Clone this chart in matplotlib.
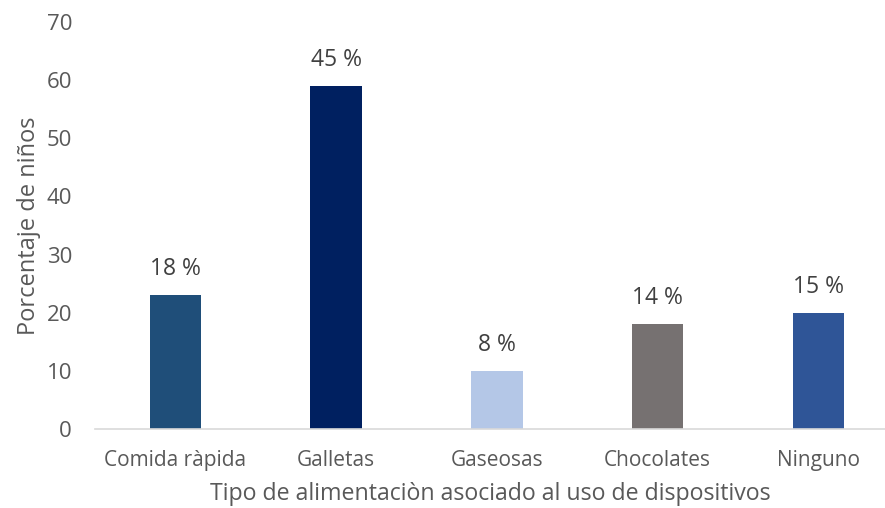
import matplotlib
matplotlib.use("Agg")
import matplotlib.pyplot as plt

plt.rcParams['font.family'] = ['Open Sans', 'DejaVu Sans']

# número de niños por tipo de alimento
categorias = ['Comida ràpida', 'Galletas', 'Gaseosas', 'Chocolates', 'Ninguno']
ninos = [23, 59, 10, 18, 20]
colores = ['#1F4E79', '#002060', '#B4C7E7', '#767171', '#2F5597']

total = sum(ninos)
porcentajes = [round(n / total * 100) for n in ninos]

fig = plt.figure(figsize=(8.85, 5.08), dpi=100)
ax = fig.add_axes([95 / 885, 79 / 508, 790 / 885, 407 / 508])

x = range(len(categorias))
bars = ax.bar(x, ninos, width=0.32, color=colores)

for b, p in zip(bars, porcentajes):
    ax.text(b.get_x() + b.get_width() / 2, b.get_height() + 2.4, f'{p} %',
            ha='center', va='bottom', fontsize=16.5, color='#404040')

ax.set_xlim(-0.5, -0.5 + 790 / 160.75)
ax.set_ylim(0, 70)
ax.set_yticks(range(0, 71, 10))
ax.set_xticks(list(x))
ax.set_xticklabels(categorias)
ax.tick_params(axis='both', length=0, labelcolor='#595959')
ax.tick_params(axis='x', pad=15, labelsize=15)
ax.tick_params(axis='y', pad=16.5, labelsize=16)

for s in ['top', 'right', 'left']:
    ax.spines[s].set_visible(False)
ax.spines['bottom'].set_color('#D9D9D9')
ax.spines['bottom'].set_linewidth(1.2)

ax.set_xlabel('Tipo de alimentaciòn asociado al uso de dispositivos',
              fontsize=16.7, color='#595959', labelpad=8)
ax.set_ylabel('Porcentaje de niños', fontsize=17, color='#595959', labelpad=4)

fig.savefig('out.png', dpi=100)
